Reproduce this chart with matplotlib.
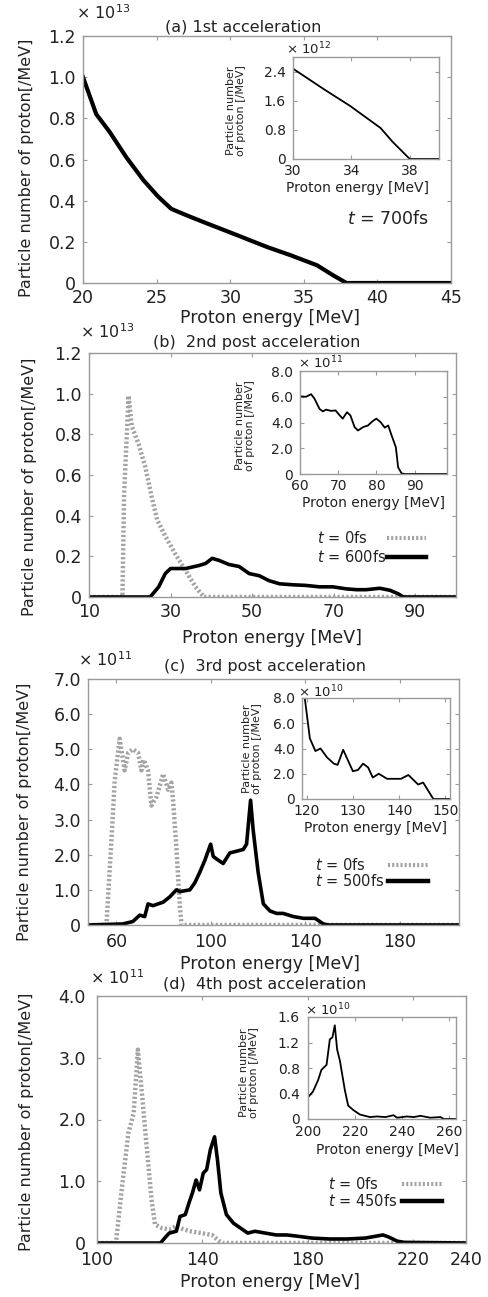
import numpy as np
import matplotlib.pyplot as plt
from matplotlib.lines import Line2D

# (a) 1st acceleration, t = 700 fs  (y in units of 1e13 /MeV)
a_e = [20, 20.9, 21.8, 22.95, 24.1, 25.1, 26, 27, 28.4, 30.2, 32.5, 34.1, 35.9, 37, 37.9, 45]
a_n = [1.0, 0.82, 0.735, 0.61, 0.50, 0.42, 0.36, 0.33, 0.29, 0.24, 0.175, 0.135, 0.086, 0.037, 0.0, 0.0]
# inset (a), units 1e12
ai_e = [30, 32.1, 33.9, 36, 36.8, 38, 40]
ai_n = [2.48, 1.92, 1.46, 0.85, 0.48, 0.0, 0.0]

# (b) 2nd post acceleration, units 1e13
b0_e = [10, 18.2, 18.6, 19.7, 20.5, 22.2, 23.8, 25.4, 26.7, 28.7, 31.2, 33.7, 36.1, 38.2, 100]
b0_n = [0, 0, 0.5, 0.99, 0.84, 0.75, 0.64, 0.49, 0.38, 0.30, 0.21, 0.13, 0.05, 0, 0]
b1_e = [10, 25, 27.1, 28.7, 30, 33.7, 37, 38.6, 40.2, 41.9, 44.3, 46.8, 49.3, 51.7, 54.2, 56.7,
        60, 63.2, 66.5, 69.8, 73.1, 75.6, 78, 81.3, 83.8, 85.8, 87.1, 100]
b1_n = [0, 0, 0.05, 0.115, 0.14, 0.14, 0.155, 0.165, 0.19, 0.18, 0.16, 0.15, 0.115, 0.105, 0.08, 0.065,
        0.06, 0.057, 0.05, 0.05, 0.04, 0.036, 0.036, 0.043, 0.033, 0.016, 0, 0]
# inset (b), units 1e11
bi_e = [60, 61.6, 62.9, 63.8, 65.1, 66, 66.8, 68.2, 69.3, 70.4, 71.2, 72.3, 73.2, 74.3, 75.2, 76.5,
        77.8, 79, 80, 81.1, 82.2, 83.1, 84, 85.1, 85.7, 86.6, 87.5, 98.5]
bi_n = [6.03, 6.0, 6.2, 5.85, 5.06, 4.86, 5.0, 4.9, 4.94, 4.55, 4.3, 4.8, 4.55, 3.64, 3.38, 3.64,
        3.77, 4.1, 4.3, 4.03, 3.6, 3.77, 2.99, 2.08, 0.52, 0.05, 0, 0]

# (c) 3rd post acceleration, units 1e11
c0_e = [48, 55.8, 57.9, 59.3, 61.4, 63.5, 65, 67, 69.2, 70.6, 71.6, 73.4, 74.8, 77, 79.8, 81.9,
        83.3, 84, 85.4, 86.9, 87.6, 205]
c0_n = [0, 0, 2.4, 4.1, 5.3, 4.4, 4.9, 5.0, 4.9, 4.4, 4.7, 4.4, 3.4, 3.65, 4.3, 3.85,
        4.05, 3.55, 2.2, 0.5, 0, 0]
c1_e = [48, 62.8, 67, 69.9, 72, 73.4, 75.5, 79.8, 82.6, 85.4, 86.9, 91.1, 93.2, 95.3, 97.5, 99.9,
        101, 103, 105.2, 108, 110.9, 113.7, 115.1, 116.8, 117.9, 120, 122.2, 125, 127.8, 130.6,
        134.9, 139.2, 144.1, 147.6, 149.7, 205]
c1_n = [0, 0.03, 0.1, 0.28, 0.24, 0.6, 0.55, 0.65, 0.8, 1.0, 0.95, 1.0, 1.2, 1.5, 1.85, 2.3,
        1.95, 1.85, 1.75, 2.05, 2.1, 2.15, 2.3, 3.55, 2.7, 1.5, 0.6, 0.4, 0.33, 0.33,
        0.24, 0.19, 0.19, 0.03, 0, 0]
# inset (c), units 1e10
ci_e = [119.6, 120.7, 121.9, 123, 124.4, 125.9, 126.7, 127.9, 130, 131.1, 132.2, 133.3, 134.3,
        135.6, 137.4, 140.4, 142, 144.1, 145.2, 147.4, 151]
ci_n = [8.0, 4.8, 3.8, 4.0, 3.3, 2.8, 2.7, 3.9, 2.2, 2.3, 2.8, 2.5, 1.7,
        2.0, 1.6, 1.6, 1.9, 1.15, 1.3, 0, 0]

# (d) 4th post acceleration, units 1e11
d0_e = [100, 107.2, 109.2, 111.9, 113.9, 115.5, 117.3, 119.3, 120.7, 122, 124.7, 127.4, 130.1,
        132.8, 135.5, 139.6, 143.6, 146.4, 147.7, 240]
d0_n = [0, 0, 0.8, 1.78, 2.1, 3.13, 2.3, 1.35, 0.7, 0.3, 0.24, 0.22, 0.27,
        0.22, 0.19, 0.16, 0.13, 0.03, 0, 0]
d1_e = [100, 124.1, 126.1, 127.4, 130.1, 131.5, 133.5, 134.9, 136.2, 137.6, 138.9, 140.3, 141.6,
        143, 144.6, 145.7, 147, 149.1, 151.8, 154.5, 157.2, 159.9, 163.9, 168, 172, 176.1, 181.5,
        188.2, 195, 201.8, 205.8, 208.5, 210.5, 213.9, 216.6, 228.8, 240]
d1_n = [0, 0, 0.1, 0.16, 0.19, 0.43, 0.46, 0.65, 0.81, 1.02, 0.86, 1.13, 1.19,
        1.51, 1.72, 1.35, 0.81, 0.46, 0.32, 0.24, 0.16, 0.19, 0.16, 0.13, 0.13, 0.11, 0.08,
        0.065, 0.065, 0.08, 0.11, 0.13, 0.1, 0.03, 0.01, 0.005, 0]
# inset (d), units 1e10
di_e = [200, 202.1, 204.3, 205.7, 207.9, 209.3, 210.4, 211.4, 212.4, 213.6, 215.7, 217.1, 219.3,
        222.1, 226.4, 229.3, 233, 236.4, 237.9, 242.1, 245, 247.9, 252, 256.4, 257.8, 263]
di_n = [0.34, 0.43, 0.61, 0.77, 0.85, 1.25, 1.28, 1.47, 1.09, 0.91, 0.45, 0.21, 0.14,
        0.07, 0.03, 0.04, 0.03, 0.06, 0.02, 0.04, 0.03, 0.05, 0.02, 0.03, 0, 0]

W, H = 488, 1297
fig = plt.figure(figsize=(W / 100, H / 100), dpi=100)
TXT = '#222222'
GRAY = '#a3a3a3'
ylab = 'Particle number of proton[/MeV]'
xlab = 'Proton energy [MeV]'


def box(l, t, r, b):
    return fig.add_axes([l / W, 1 - b / H, (r - l) / W, (b - t) / H])


def ftext(x, y, s, **kw):
    kw.setdefault('color', TXT)
    return fig.text(x / W, 1 - y / H, s, **kw)


def style(ax, fs, xpad, ypad):
    for sp in ax.spines.values():
        sp.set_color('#9a9a9a')
        sp.set_linewidth(1.0)
    ax.tick_params(direction='in', top=True, right=True, length=3, width=0.8,
                   color='#9a9a9a', labelsize=fs, labelcolor=TXT)
    ax.tick_params(axis='x', pad=xpad)
    ax.tick_params(axis='y', pad=ypad)


def yfmt(ax, ticks, fmt):
    ax.set_yticks(ticks)
    ax.set_yticklabels(['0' if t == 0 else fmt.format(t) for t in ticks])


def legend(x_text, y1, y2, x_l1, x_l2, lab2):
    ftext(x_text, y1, '$t$ = 0fs', fontsize=10.5, va='center')
    ftext(x_text, y2, '$t$ = ' + lab2, fontsize=10.5, va='center')
    fig.add_artist(Line2D([x_l1 / W, x_l2 / W], [1 - y1 / H, 1 - y1 / H], transform=fig.transFigure,
                          color=GRAY, lw=3, dashes=(0.5, 0.5)))
    fig.add_artist(Line2D([x_l1 / W, x_l2 / W], [1 - y2 / H, 1 - y2 / H], transform=fig.transFigure,
                          color='black', lw=3.2))


# ---------- (a)
ax = box(83, 36, 451, 283)
ax.plot(a_e, a_n, color='black', lw=3)
ax.set_xlim(20, 45)
ax.set_ylim(0, 1.2)
ax.set_xticks([20, 25, 30, 35, 40, 45])
yfmt(ax, [0, 0.2, 0.4, 0.6, 0.8, 1.0, 1.2], '{:.1f}')
style(ax, 12.5, 4.5, 5)
ftext(27, 168, ylab, fontsize=11.5, rotation=90, ha='center', va='center')
ftext(270, 318, xlab, fontsize=12.5, ha='center', va='center')
ftext(243, 27, '(a) 1st acceleration', fontsize=11.5, ha='center', va='center')
ftext(76, 13, '× 10$^{13}$', fontsize=11.5, va='center')
ftext(388, 219, '$t$ = 700fs', fontsize=12.5, ha='center', va='center')

ins = box(293, 57, 439, 159)
ins.plot(ai_e, ai_n, color='black', lw=1.3)
ins.set_xlim(30, 40)
ins.set_ylim(0, 2.8)
ins.set_xticks([30, 34, 38])
yfmt(ins, [0, 0.8, 1.6, 2.4], '{:.1f}')
style(ins, 10, 3.5, 5)
ftext(236, 111, 'Particle number\nof proton [/MeV]', fontsize=8, rotation=90, ha='center', va='center',
      linespacing=1.0)
ftext(357, 188, xlab, fontsize=10, ha='center', va='center')
ftext(286, 49, '× 10$^{12}$', fontsize=9.5, va='center')

# ---------- (b)
ax = box(89, 353, 456, 597)
ax.plot(b0_e, b0_n, color=GRAY, lw=3.2, dashes=(0.5, 0.5))
ax.plot(b1_e, b1_n, color='black', lw=2.6)
ax.set_xlim(10, 100)
ax.set_ylim(0, 1.2)
ax.set_xticks([10, 30, 50, 70, 90])
yfmt(ax, [0, 0.2, 0.4, 0.6, 0.8, 1.0, 1.2], '{:.1f}')
style(ax, 12.5, 4.5, 5)
ftext(30, 487, ylab, fontsize=11.5, rotation=90, ha='center', va='center')
ftext(272, 638, xlab, fontsize=12.5, ha='center', va='center')
ftext(257, 342, '(b)  2nd post acceleration', fontsize=11.5, ha='center', va='center')
ftext(80, 332, '× 10$^{13}$', fontsize=11.5, va='center')
legend(317, 538, 557, 387, 426, '600fs')

ins = box(300, 371, 447, 474)
ins.plot(bi_e, bi_n, color='black', lw=1.3)
ins.set_xlim(60, 98.5)
ins.set_ylim(0, 8)
ins.set_xticks([60, 70, 80, 90])
yfmt(ins, [0, 2, 4, 6, 8], '{:.1f}')
style(ins, 10, 3.5, 5)
ftext(245, 426, 'Particle number\nof proton [/MeV]', fontsize=8, rotation=90, ha='center', va='center',
      linespacing=1.0)
ftext(373, 503, xlab, fontsize=10, ha='center', va='center')
ftext(298, 363, '× 10$^{11}$', fontsize=9.5, va='center')

# ---------- (c)
ax = box(88, 679, 459, 925)
ax.plot(c0_e, c0_n, color=GRAY, lw=3.2, dashes=(0.5, 0.5))
ax.plot(c1_e, c1_n, color='black', lw=2.6)
ax.set_xlim(48, 205)
ax.set_ylim(0, 7)
ax.set_xticks([60, 100, 140, 180])
yfmt(ax, [0, 1, 2, 3, 4, 5, 6, 7], '{:.1f}')
style(ax, 12.5, 6, 5)
ftext(25, 812, ylab, fontsize=11.5, rotation=90, ha='center', va='center')
ftext(270, 964, xlab, fontsize=12.5, ha='center', va='center')
ftext(265, 667, '(c)  3rd post acceleration', fontsize=11.5, ha='center', va='center')
ftext(78, 660, '× 10$^{11}$', fontsize=11.5, va='center')
legend(315, 865, 881, 388, 428, '500fs')

ins = box(302, 698, 450, 799)
ins.plot(ci_e, ci_n, color='black', lw=1.3)
ins.set_xlim(119, 151)
ins.set_ylim(0, 8)
ins.set_xticks([120, 130, 140, 150])
yfmt(ins, [0, 2, 4, 6, 8], '{:.1f}')
style(ins, 10, 3.5, 5)
ftext(252, 749, 'Particle number\nof proton [/MeV]', fontsize=8, rotation=90, ha='center', va='center',
      linespacing=1.0)
ftext(375, 828, xlab, fontsize=10, ha='center', va='center')
ftext(298, 692, '× 10$^{10}$', fontsize=9.5, va='center')

# ---------- (d)
ax = box(97, 996, 466, 1243)
ax.plot(d0_e, d0_n, color=GRAY, lw=3.2, dashes=(0.5, 0.5))
ax.plot(d1_e, d1_n, color='black', lw=2.6)
ax.set_xlim(100, 240)
ax.set_ylim(0, 4)
ax.set_xticks([100, 140, 180, 220, 240])
yfmt(ax, [0, 1, 2, 3, 4], '{:.1f}')
style(ax, 12.5, 6, 8)
ftext(27, 1122, ylab, fontsize=11.5, rotation=90, ha='center', va='center')
ftext(270, 1282, xlab, fontsize=12.5, ha='center', va='center')
ftext(265, 985, '(d)  4th post acceleration', fontsize=11.5, ha='center', va='center')
ftext(90, 978, '× 10$^{11}$', fontsize=11.5, va='center')
legend(328, 1184, 1201, 402, 442, '450fs')

ins = box(308, 1017, 456, 1119)
ins.plot(di_e, di_n, color='black', lw=1.3)
ins.set_xlim(200, 263)
ins.set_ylim(0, 1.6)
ins.set_xticks([200, 220, 240, 260])
yfmt(ins, [0, 0.4, 0.8, 1.2, 1.6], '{:.1f}')
style(ins, 10, 4.5, 6)
ftext(249, 1073, 'Particle number\nof proton [/MeV]', fontsize=8, rotation=90, ha='center', va='center',
      linespacing=1.0)
ftext(387, 1150, xlab, fontsize=10, ha='center', va='center')
ftext(305, 1010, '× 10$^{10}$', fontsize=9.5, va='center')

fig.savefig('out.png', dpi=100)
